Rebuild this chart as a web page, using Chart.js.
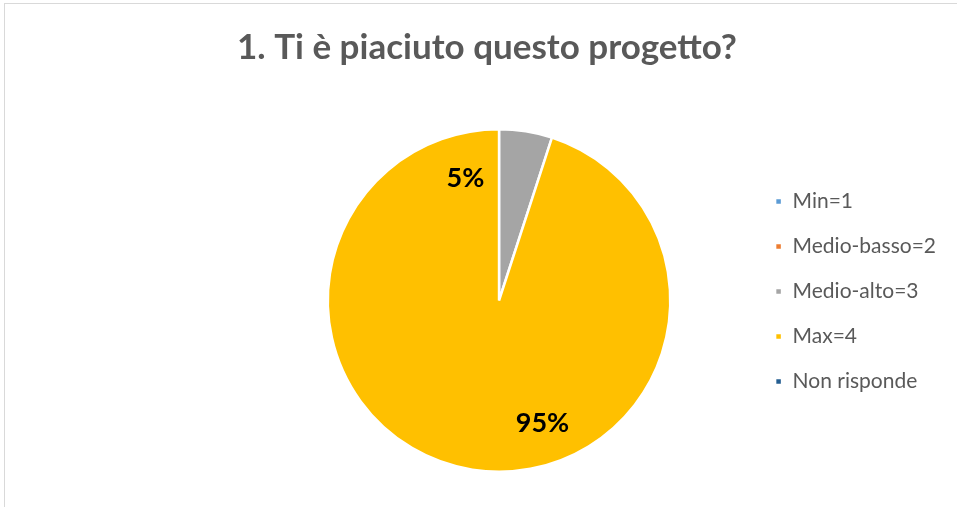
<!DOCTYPE html>
<html>
<head>
<meta charset="utf-8">
<script src="https://cdn.jsdelivr.net/npm/chart.js@4"></script>
<style>
  body { margin: 0; background: #fff; overflow: hidden; }
  #frame { position: absolute; left: 4px; top: 3px; width: 1000px; height: 600px; border: 1px solid #d9d9d9; }
  #wrap { position: absolute; left: 0; top: 0; width: 957px; height: 507px; }
</style>
</head>
<body>
<div id="frame"></div>
<div id="wrap"><canvas id="myChart" width="957" height="507"></canvas></div>
<script>
// categories and values (share of answers, %)
var categories = ["Min=1", "Medio-basso=2", "Medio-alto=3", "Max=4", "Non risponde"];
var values = [0, 0, 5, 95, 0];
var colors = ["#5B9BD5", "#ED7D31", "#A5A5A5", "#FFC000", "#255E91"];

// percent labels drawn on the slices, placed like Excel's "best fit"
var pctLabels = {
  id: 'pctLabels',
  afterDatasetsDraw: function (chart, args, opts) {
    var ctx = chart.ctx;
    var meta = chart.getDatasetMeta(0);
    var total = values.reduce(function (a, b) { return a + b; }, 0);
    ctx.save();
    ctx.font = opts.font;
    ctx.fillStyle = '#000';
    ctx.textAlign = 'center';
    ctx.textBaseline = 'middle';
    meta.data.forEach(function (arc, i) {
      if (!values[i]) return;
      var p = opts.place[i];
      var a = (p.angle - 90) * Math.PI / 180;
      var r = arc.outerRadius * p.r;
      var txt = Math.round(values[i] / total * 100) + '%';
      ctx.fillText(txt, arc.x + Math.cos(a) * r, arc.y + Math.sin(a) * r);
    });
    ctx.restore();
  }
};

// title is centred over the whole canvas, not only over the padded pie area
var fullTitle = {
  id: 'fullTitle',
  afterLayout: function (chart) {
    if (chart.titleBlock) {
      chart.titleBlock.left = 17;
      chart.titleBlock.right = chart.width;
    }
  }
};

var ctx = document.getElementById("myChart").getContext('2d');
var myChart = new Chart(ctx, {
  type: 'pie',
  data: {
    labels: categories,
    datasets: [{
      data: values,
      backgroundColor: colors,
      borderColor: '#ffffff',
      borderWidth: 2.5
    }]
  },
  options: {
    responsive: false,
    animation: false,
    layout: { padding: { left: 247, right: 11, top: 0, bottom: 34 } },
    plugins: {
      title: {
        display: true,
        text: '1. Ti è piaciuto questo progetto?',
        color: '#595959',
        font: { family: 'Lato', size: 35, weight: 'bold' },
        padding: { top: 26.5, bottom: 59.5 }
      },
      legend: {
        position: 'right',
        title: { display: true, text: '', font: { size: 10, lineHeight: 1 }, padding: { top: 100, bottom: 0 } },
        labels: {
          color: '#595959',
          font: { family: 'Lato', size: 21 },
          boxWidth: 7,
          boxHeight: 7,
          padding: 24
        }
      },
      tooltip: { enabled: false },
      pctLabels: {
        font: 'bold 27px Lato',
        place: [null, null, { angle: -15.4, r: 0.74 }, { angle: 160.5, r: 0.76 }, null]
      }
    }
  },
  plugins: [pctLabels, fullTitle]
});
</script>
</body>
</html>
